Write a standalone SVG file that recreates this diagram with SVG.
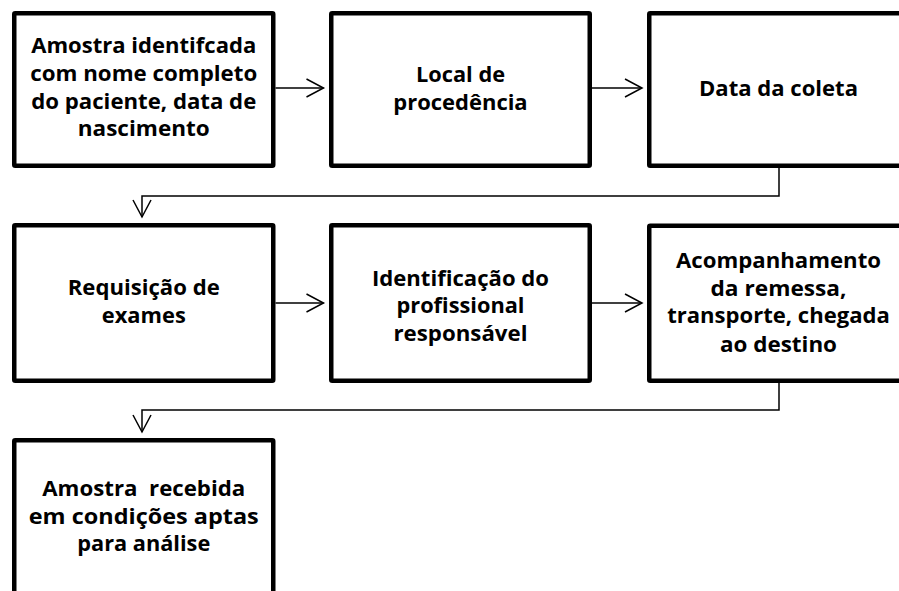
<svg xmlns="http://www.w3.org/2000/svg" width="899" height="591" viewBox="0 0 899 591">
<defs>
<style>
.box{fill:#fff;stroke:#000;stroke-width:4.5;}
.lbl{font-family:"Open Sans","Noto Sans","Liberation Sans",sans-serif;font-weight:bold;font-size:22px;fill:#000;text-anchor:middle;}
.con{fill:none;stroke:#000;stroke-width:1.5;marker-end:url(#arr);}
</style>
<marker id="arr" viewBox="-2 -2 22 22" refX="17" refY="9" markerWidth="22" markerHeight="22" markerUnits="userSpaceOnUse" orient="auto" overflow="visible">
<path d="M0,0 L17,9 L0,18" fill="none" stroke="#000" stroke-width="1.5"/>
</marker>
</defs>
<rect width="899" height="591" fill="#fff"/>
<g id="connectors">
<path class="con" d="M275.5,88 H323.5"/>
<path class="con" d="M592,88 H642"/>
<path class="con" d="M779,168 V196 H142 V217"/>
<path class="con" d="M275.5,303 H323.5"/>
<path class="con" d="M592,303 H642"/>
<path class="con" d="M779,383 V410 H142 V432"/>
</g>
<g id="n1">
<rect class="box" x="14.25" y="13.25" width="259" height="152.5" rx="1"/>
<text class="lbl" x="143.75" y="53.3" textLength="225" lengthAdjust="spacingAndGlyphs">Amostra identifcada</text>
<text class="lbl" x="143.75" y="80.8" textLength="227" lengthAdjust="spacingAndGlyphs">com nome completo</text>
<text class="lbl" x="143.75" y="108.5" textLength="225" lengthAdjust="spacingAndGlyphs">do paciente, data de</text>
<text class="lbl" x="143.75" y="136.3" textLength="132" lengthAdjust="spacingAndGlyphs">nascimento</text>
</g>
<g id="n2">
<rect class="box" x="331.25" y="13.25" width="258.5" height="152.5" rx="1"/>
<text class="lbl" x="460.5" y="81.7" textLength="89" lengthAdjust="spacingAndGlyphs">Local de</text>
<text class="lbl" x="460.5" y="110" textLength="134.3" lengthAdjust="spacingAndGlyphs">procedência</text>
</g>
<g id="n3">
<rect class="box" x="649.25" y="13.25" width="259" height="152.5" rx="1"/>
<text class="lbl" x="778.5" y="96" textLength="159" lengthAdjust="spacingAndGlyphs">Data da coleta</text>
</g>
<g id="n4">
<rect class="box" x="14.25" y="225.25" width="259" height="155.5" rx="1"/>
<text class="lbl" x="143.75" y="295" textLength="152" lengthAdjust="spacingAndGlyphs">Requisição de</text>
<text class="lbl" x="143.75" y="323" textLength="84" lengthAdjust="spacingAndGlyphs">exames</text>
</g>
<g id="n5">
<rect class="box" x="331.25" y="225.25" width="258.5" height="155.5" rx="1"/>
<text class="lbl" x="460.5" y="285.5" textLength="177" lengthAdjust="spacingAndGlyphs">Identificação do</text>
<text class="lbl" x="460.5" y="313" textLength="128" lengthAdjust="spacingAndGlyphs">profissional</text>
<text class="lbl" x="460.5" y="341" textLength="134" lengthAdjust="spacingAndGlyphs">responsável</text>
</g>
<g id="n6">
<rect class="box" x="649.25" y="225.75" width="259" height="155" rx="1"/>
<text class="lbl" x="778.5" y="268.3" textLength="205" lengthAdjust="spacingAndGlyphs">Acompanhamento</text>
<text class="lbl" x="778.5" y="295.5" textLength="136" lengthAdjust="spacingAndGlyphs">da remessa,</text>
<text class="lbl" x="778.5" y="323.3" textLength="222.7" lengthAdjust="spacingAndGlyphs">transporte, chegada</text>
<text class="lbl" x="778.5" y="351.5" textLength="117" lengthAdjust="spacingAndGlyphs">ao destino</text>
</g>
<g id="n7">
<rect class="box" x="14.25" y="440.25" width="259" height="170" rx="1"/>
<text class="lbl" x="143.75" y="496" textLength="203" lengthAdjust="spacingAndGlyphs" xml:space="preserve">Amostra  recebida</text>
<text class="lbl" x="143.75" y="523.5" textLength="230" lengthAdjust="spacingAndGlyphs">em condições aptas</text>
<text class="lbl" x="143.75" y="551.3" textLength="133" lengthAdjust="spacingAndGlyphs">para análise</text>
</g>
</svg>
